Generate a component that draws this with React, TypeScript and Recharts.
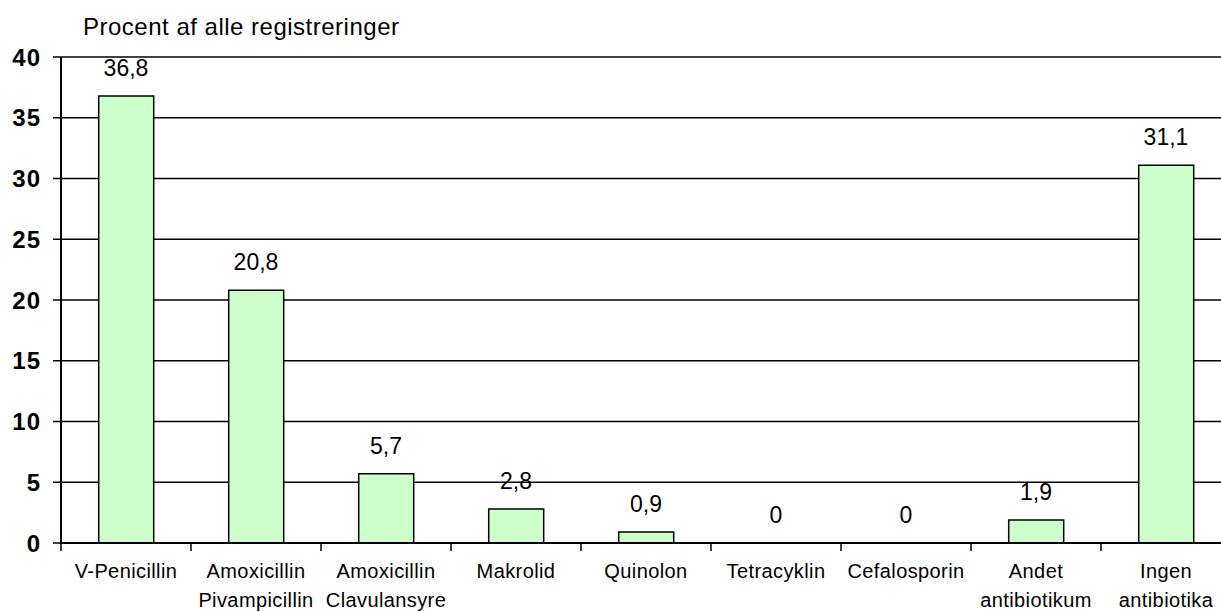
import React from 'react';
import { ComposedChart, Bar, Line, XAxis, YAxis, CartesianGrid, LabelList } from 'recharts';

const categories: string[] = [
  'V-Penicillin',
  'Amoxicillin\nPivampicillin',
  'Amoxicillin\nClavulansyre',
  'Makrolid',
  'Quinolon',
  'Tetracyklin',
  'Cefalosporin',
  'Andet\nantibiotikum',
  'Ingen\nantibiotika',
];
const values: number[] = [36.8, 20.8, 5.7, 2.8, 0.9, 0, 0, 1.9, 31.1];
const yTicks: number[] = [0, 5, 10, 15, 20, 25, 30, 35, 40];
const title = 'Procent af alle registreringer';

const data = categories.map((c, i) => ({ name: c, value: values[i] }));

const FONT = '"Liberation Sans", Arial, sans-serif';

const fmt = (v: number) => (v === 0 ? '0' : v.toFixed(1).replace('.', ','));

const XTick = (props: any) => {
  const { x, y, payload } = props;
  const off = payload && typeof payload.offset === 'number' ? payload.offset : 65;
  const lines = String(payload.value).split('\n');
  return (
    <g>
      <line x1={x - off} x2={x - off} y1={y - 8} y2={y} stroke="#000" strokeWidth={1.5} />
      <text x={x} y={y} textAnchor="middle" fontSize={20} fontFamily={FONT} fill="#000" letterSpacing={0.4}>
        {lines.map((l, i) => (
          <tspan key={i} x={x} y={y + 27 + i * 29}>
            {l}
          </tspan>
        ))}
      </text>
    </g>
  );
};

const ValueLabel = (props: any) => {
  const { x, y, value } = props;
  return (
    <text x={x} y={y - 20} textAnchor="middle" fontSize={23} fontFamily={FONT} fill="#000">
      {fmt(Number(value))}
    </text>
  );
};

export default function App() {
  return (
    <div
      style={{
        position: 'absolute',
        left: 0,
        top: 0,
        width: 1221,
        height: 612,
        overflow: 'hidden',
        background: '#fff',
      }}
    >
      <div
        style={{
          position: 'absolute',
          left: 83,
          top: 15,
          fontFamily: FONT,
          fontSize: 24,
          lineHeight: '24px',
          letterSpacing: 0.5,
          color: '#000',
          whiteSpace: 'nowrap',
        }}
      >
        {title}
      </div>
      <ComposedChart
        width={1240}
        height={612}
        data={data}
        margin={{ top: 57, right: 9, left: 0, bottom: 0 }}
        barCategoryGap="29%"
      >
        <CartesianGrid horizontal vertical={false} stroke="#000" strokeWidth={1.3} />
        <XAxis
          dataKey="name"
          height={69}
          interval={0}
          tickLine={false}
          tickSize={8}
          tickMargin={0}
          axisLine={{ stroke: '#000', strokeWidth: 2 }}
          tick={<XTick />}
        />
        <YAxis
          width={61}
          domain={[0, 40]}
          ticks={yTicks}
          interval={0}
          tickSize={8}
          tickMargin={12}
          axisLine={{ stroke: '#000', strokeWidth: 2 }}
          tickLine={{ stroke: '#000', strokeWidth: 1.5 }}
          tick={{ fill: '#000', fontSize: 24, fontWeight: 'bold', fontFamily: FONT, letterSpacing: 1 }}
        />
        <Bar dataKey="value" fill="#CCFFCC" stroke="#000" strokeWidth={1.5} isAnimationActive={false} />
        <Line
          dataKey="value"
          stroke="none"
          dot={false}
          activeDot={false}
          legendType="none"
          isAnimationActive={false}
        >
          <LabelList dataKey="value" content={<ValueLabel />} />
        </Line>
      </ComposedChart>
    </div>
  );
}
